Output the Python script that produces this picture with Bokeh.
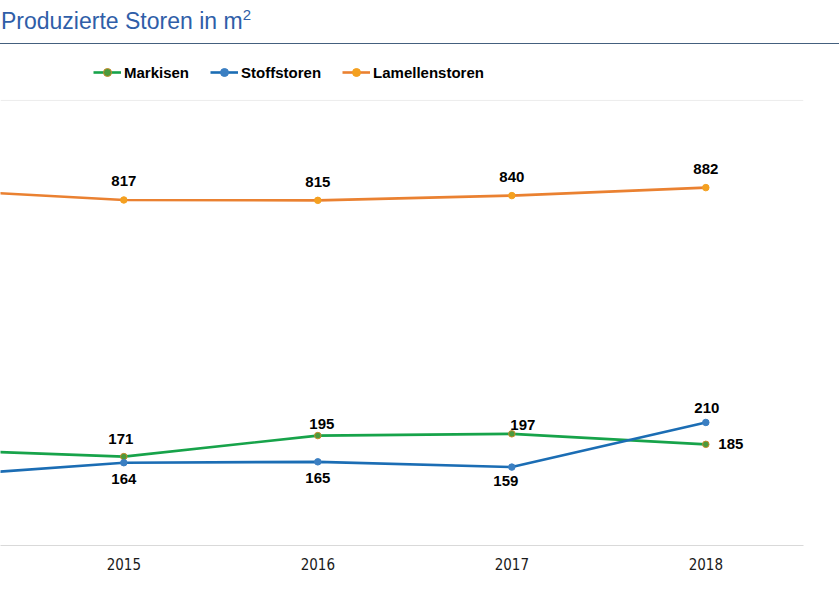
from bokeh.plotting import figure
from bokeh.models import (Range1d, FixedTicker, Legend, LegendItem,
                          ColumnDataSource, Span, Div)
from bokeh.layouts import column
from bokeh.core.properties import value
from bokeh.embed import file_html
from bokeh.resources import INLINE

# ---------------- data ----------------
years = [2014, 2015, 2016, 2017, 2018]
markisen = [179, 171, 195, 197, 185]
stoffstoren = [148, 164, 165, 159, 210]
lamellenstoren = [873, 817, 815, 840, 882]
tick_years = [2015, 2016, 2017, 2018]
series_names = ["Markisen", "Stoffstoren", "Lamellenstoren"]
title_text = "Produzierte Storen in m"
title_sup = "2"

# ---------------- styles ----------------
GREEN = "#17a34a"
BLUE = "#1b6db4"
ORANGE = "#ea8131"
FONT = "Liberation Sans"

# axis scaling (primary axis for Markisen/Stoffstoren, secondary for Lamellenstoren)
PRIMARY_RANGE = (69.4, 641.9)
SECONDARY_RANGE = (-1001.6, 1635.3)
GRID_TOP = 578.0   # value of the faint top gridline on the primary axis

# label placement (screen px: dx right, dy up) per series, for labelled years
green_lbl = [(-3, 18), (4, 12), (11, 8.5), (25, 0)]
blue_lbl = [(0, -16), (0, -16.5), (-6, -13.5), (1, 14.5)]
orange_lbl = [(0, 18.5), (0, 18.5), (0, 18.5), (0, 18.5)]

W = 839
title_div = Div(
    text=(f'<div style="width:{W}px;height:44px;border-bottom:1px solid #44607e;'
          f'font-family:\'{FONT}\',Arial,sans-serif;font-size:23px;color:#2f5ea8;'
          f'line-height:23px;padding-top:10px;padding-left:1px;box-sizing:border-box;'
          f'white-space:nowrap;">'
          f'{title_text}<sup style="font-size:15px;line-height:0;">{title_sup}</sup></div>'),
    width=W, height=44, margin=(0, 0, 0, 0))

p = figure(width=W, height=551, output_backend="svg", toolbar_location=None,
           x_range=Range1d(2014.3644, 2018.5035),
           y_range=Range1d(*PRIMARY_RANGE),
           min_border_left=0, min_border_right=36,
           min_border_top=0, min_border_bottom=50,
           outline_line_color=None, background_fill_color="white",
           border_fill_color="white")
p.extra_y_ranges = {"sec": Range1d(*SECONDARY_RANGE)}

p.yaxis.visible = False
p.xgrid.visible = False
p.ygrid.visible = False

xa = p.xaxis[0]
xa.ticker = FixedTicker(ticks=tick_years)
xa.major_label_overrides = {y: str(y) for y in tick_years}
xa.axis_line_color = "#d9d9d9"
xa.axis_line_width = 1
xa.major_tick_line_color = None
xa.minor_tick_line_color = None
xa.major_tick_out = 0
xa.major_tick_in = 0
xa.major_label_standoff = 12
xa.major_label_text_font = "'Liberation Sans Narrow', 'DejaVu Sans Condensed', sans-serif"
xa.major_label_text_font_size = "15px"
xa.major_label_text_color = "#1a1a1a"

top_line = Span(location=GRID_TOP, dimension="width",
                line_color="#ececec", line_width=1)
p.add_layout(top_line)

series = [
    (series_names[0], markisen, GREEN, "#4c9a3c", "#c98a2b", "default", green_lbl),
    (series_names[1], stoffstoren, BLUE, "#3b7fc2", "#3b7fc2", "default", blue_lbl),
    (series_names[2], lamellenstoren, ORANGE, "#f4a020", "#f4a020", "sec", orange_lbl),
]

items = []
for name, vals, col, mfill, mline, yr_name, lbl in series:
    src = ColumnDataSource(dict(x=years, y=vals))
    lr = p.line("x", "y", source=src, line_color=col, line_width=2.6,
                y_range_name=yr_name)
    sr = p.scatter("x", "y", source=src, size=6.5, fill_color=mfill,
                   line_color=mline, line_width=1, y_range_name=yr_name)
    items.append(LegendItem(label=name, renderers=[lr, sr]))

    lx, ly, lt, dx, dy = [], [], [], [], []
    for yr, v in zip(years, vals):
        if yr in tick_years:
            k = tick_years.index(yr)
            lx.append(yr)
            ly.append(v)
            lt.append(str(v))
            dx.append(lbl[k][0])
            dy.append(-lbl[k][1])
    lsrc = ColumnDataSource(dict(x=lx, y=ly, t=lt, dx=dx, dy=dy))
    p.text("x", "y", text="t", source=lsrc, x_offset="dx", y_offset="dy",
           text_align="center", text_baseline="middle",
           text_font=value(FONT), text_font_style="bold",
           text_font_size="15px", text_color="#000000",
           y_range_name=yr_name)

legend = Legend(items=items, orientation="horizontal", location=(93, 463),
                padding=0, margin=0, spacing=21,
                glyph_width=28, glyph_height=20, label_height=20,
                label_standoff=3,
                label_text_font=FONT, label_text_font_style="bold",
                label_text_font_size="15px", label_text_color="#000000",
                border_line_color=None, background_fill_alpha=0)
p.add_layout(legend)

bottom_div = Div(text=f'<div style="width:{W}px;height:1px;background:#7d8ea8;"></div>',
                 width=W, height=1, margin=(0, 0, 0, 0))

layout = column(title_div, p, bottom_div, spacing=0)

open("out.html", "w").write(file_html(layout, INLINE))
